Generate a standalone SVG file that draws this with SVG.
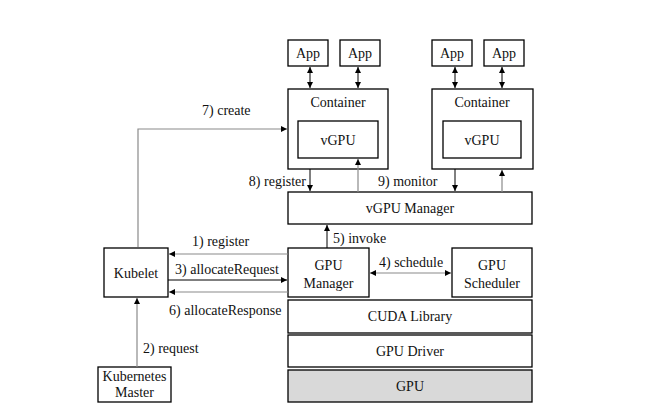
<svg xmlns="http://www.w3.org/2000/svg" width="647" height="414" viewBox="0 0 647 414">
<defs>
<marker id="ah" viewBox="0 0 10 10" refX="10" refY="5" markerWidth="6" markerHeight="6" orient="auto-start-reverse" markerUnits="userSpaceOnUse">
<path d="M0,0 L10,5 L0,10 z" fill="#000"/>
</marker>
</defs>
<style>
.box{fill:#fff;stroke:#000;stroke-width:1.3}
.gpu{fill:#d9d9d9;stroke:#000;stroke-width:1.3}
text{font-family:"Liberation Serif","Times New Roman",serif;font-size:14px;fill:#111}
.c{text-anchor:middle}
.k{stroke:#000;stroke-width:1;fill:none}
.g{stroke:#8a8a8a;stroke-width:1.2;fill:none}
</style>
<rect width="647" height="414" fill="#fff"/>
<g id="app1"><rect class="box" x="288" y="40" width="40" height="26"/><text class="c" x="308" y="58">App</text></g>
<g id="app2"><rect class="box" x="340" y="40" width="40" height="26"/><text class="c" x="360" y="58">App</text></g>
<g id="app3"><rect class="box" x="432" y="40" width="40" height="26"/><text class="c" x="452" y="58">App</text></g>
<g id="app4"><rect class="box" x="484" y="40" width="40" height="26"/><text class="c" x="504" y="58">App</text></g>
<g id="container1"><rect class="box" x="288" y="89" width="100" height="80"/><text class="c" x="338" y="107">Container</text></g>
<g id="vgpu1"><rect class="box" x="298" y="121" width="80" height="37"/><text class="c" x="338" y="145">vGPU</text></g>
<g id="container2"><rect class="box" x="432" y="89" width="101" height="80"/><text class="c" x="482" y="107">Container</text></g>
<g id="vgpu2"><rect class="box" x="443" y="121" width="78" height="37"/><text class="c" x="482" y="145">vGPU</text></g>
<g id="vgpu-manager"><rect class="box" x="288" y="192" width="244" height="32"/><text class="c" x="410" y="213">vGPU Manager</text></g>
<g id="kubelet"><rect class="box" x="104" y="248" width="64" height="49"/><text class="c" x="136" y="278">Kubelet</text></g>
<g id="gpu-manager"><rect class="box" x="288" y="248" width="81" height="49"/><text class="c" x="328.5" y="270">GPU</text><text class="c" x="328.5" y="288">Manager</text></g>
<g id="gpu-scheduler"><rect class="box" x="452" y="248" width="80" height="49"/><text class="c" x="492" y="270">GPU</text><text class="c" x="492" y="288">Scheduler</text></g>
<g id="cuda"><rect class="box" x="288" y="300" width="244" height="33"/><text class="c" x="410" y="321">CUDA Library</text></g>
<g id="driver"><rect class="box" x="288" y="335" width="244" height="32"/><text class="c" x="410" y="356">GPU Driver</text></g>
<g id="gpu"><rect class="gpu" x="288" y="370" width="244" height="32"/><text class="c" x="410" y="391">GPU</text></g>
<g id="k8s-master"><rect class="box" x="98" y="367" width="73" height="35"/><text class="c" x="134.5" y="381">Kubernetes</text><text class="c" x="134.5" y="397">Master</text></g>
<g id="connectors">
<line class="k" x1="310" y1="67" x2="310" y2="88" marker-start="url(#ah)" marker-end="url(#ah)"/>
<line class="k" x1="358" y1="67" x2="358" y2="88" marker-start="url(#ah)" marker-end="url(#ah)"/>
<line class="k" x1="455" y1="67" x2="455" y2="88" marker-start="url(#ah)" marker-end="url(#ah)"/>
<line class="k" x1="502" y1="67" x2="502" y2="88" marker-start="url(#ah)" marker-end="url(#ah)"/>
<polyline class="g" points="138,247 138,129 287,129" marker-end="url(#ah)"/>
<text x="202" y="115">7) create</text>
<line class="k" x1="310" y1="169" x2="310" y2="191" marker-end="url(#ah)"/>
<line class="g" x1="358" y1="192" x2="358" y2="159" marker-end="url(#ah)"/>
<text x="306" y="186" text-anchor="end">8) register</text>
<line class="k" x1="455" y1="169" x2="455" y2="191" marker-end="url(#ah)"/>
<line class="g" x1="502" y1="192" x2="502" y2="170" marker-end="url(#ah)"/>
<text x="378" y="186">9) monitor</text>
<line class="k" x1="327" y1="248" x2="327" y2="225" marker-end="url(#ah)"/>
<text x="333" y="243">5) invoke</text>
<line class="g" x1="288" y1="254" x2="169" y2="254" marker-end="url(#ah)"/>
<text x="192" y="246">1) register</text>
<line class="k" x1="168" y1="280" x2="287" y2="280" marker-end="url(#ah)"/>
<text x="175" y="274">3) allocateRequest</text>
<line class="g" x1="288" y1="292" x2="169" y2="292" marker-end="url(#ah)"/>
<text x="169" y="315">6) allocateResponse</text>
<line class="g" x1="370" y1="273" x2="451" y2="273" marker-start="url(#ah)" marker-end="url(#ah)"/>
<text x="379" y="267">4) schedule</text>
<line class="g" x1="137" y1="367" x2="137" y2="298" marker-end="url(#ah)"/>
<text x="143" y="353">2) request</text>
</g>
</svg>
